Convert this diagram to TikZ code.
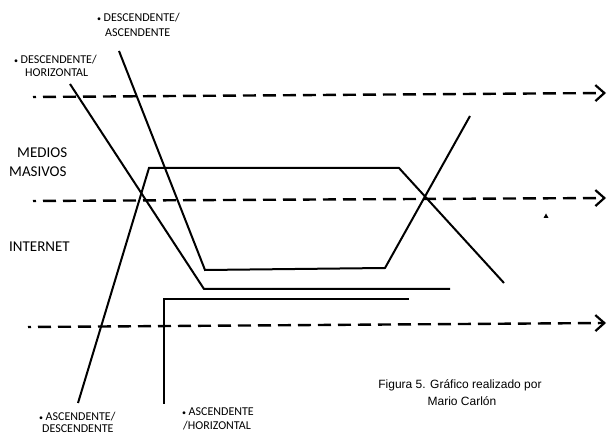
\documentclass[tikz,border=0pt]{standalone}
\usepackage{fontspec}
\setmainfont{Carlito}
\newfontfamily\arialfont{Liberation Sans}
\usetikzlibrary{arrows.meta}
\tikzset{
  trend/.style={line width=2pt, line join=miter},
  axis/.style={line width=2.4pt, dash pattern=on 13pt off 7pt, dash phase=10pt,
    -{Straight Barb[length=9pt,width=16pt,line width=2.2pt]}},
  lbl/.style={inner sep=0pt, anchor=base west, font=\fontsize{12}{14}\selectfont},
  biglbl/.style={inner sep=0pt, anchor=base west, font=\fontsize{15}{18}\selectfont},
  figcaption/.style={inner sep=0pt, anchor=base, font=\arialfont\fontsize{12}{15}\selectfont}
}
\newcommand{\bul}{{\fontsize{8}{8}\selectfont\raisebox{0.5pt}{•}}\hspace{2.5pt}}
\begin{document}
\begin{tikzpicture}[x=1pt,y=-1pt]
\useasboundingbox (0,0) rectangle (608,435);
% axes
\coordinate (a1s) at (33,97);  \coordinate (a1e) at (606,93);
\coordinate (a2s) at (33,201); \coordinate (a2e) at (606,198);
\coordinate (a3s) at (28,327); \coordinate (a3e) at (606,323);
\draw[axis] (a1s) -- (a1e);
\draw[axis] (a2s) -- (a2e);
\draw[axis] (a3s) -- (a3e);
% descendente/horizontal
\coordinate (dh1) at (70,84); \coordinate (dh2) at (204,289); \coordinate (dh3) at (450,289);
\draw[trend] (dh1) -- (dh2) -- (dh3);
% descendente/ascendente
\coordinate (da1) at (119,51); \coordinate (da2) at (205,270); \coordinate (da3) at (385,268); \coordinate (da4) at (470,116);
\draw[trend] (da1) -- (da2) -- (da3) -- (da4);
% ascendente/descendente
\coordinate (ad1) at (78,403); \coordinate (ad2) at (149,168); \coordinate (ad3) at (399,168); \coordinate (ad4) at (504,283);
\draw[trend] (ad1) -- (ad2) -- (ad3) -- (ad4);
% ascendente/horizontal
\coordinate (ah1) at (164,404); \coordinate (ah2) at (164,299); \coordinate (ah3) at (409,299);
\draw[trend] (ah1) -- (ah2) -- (ah3);
% small mark
\fill (543.5,218) -- (548.5,218) -- (546,213.5) -- cycle;
% labels
\node[lbl] (l1a) at (97,22) {\bul DESCENDENTE/};
\node[lbl] (l1b) at (105,37) {ASCENDENTE};
\node[lbl] (l2a) at (14,64) {\bul DESCENDENTE/};
\node[lbl] (l2b) at (25,77) {HORIZONTAL};
\node[biglbl] (mm1) at (17,158) {MEDIOS};
\node[biglbl] (mm2) at (9,177) {MASIVOS};
\node[biglbl] (inet) at (9,252) {INTERNET};
\node[lbl] (l3a) at (39,421) {\bul ASCENDENTE/};
\node[lbl] (l3b) at (42,433) {DESCENDENTE};
\node[lbl] (l4a) at (182,416) {\bul ASCENDENTE};
\node[lbl] (l4b) at (183,430) {/HORIZONTAL};
\node[figcaption] (f1) at (460,389) {Figura 5. Gráfico realizado por};
\node[figcaption] (f2) at (462,406) {Mario Carlón};
\end{tikzpicture}
\end{document}
